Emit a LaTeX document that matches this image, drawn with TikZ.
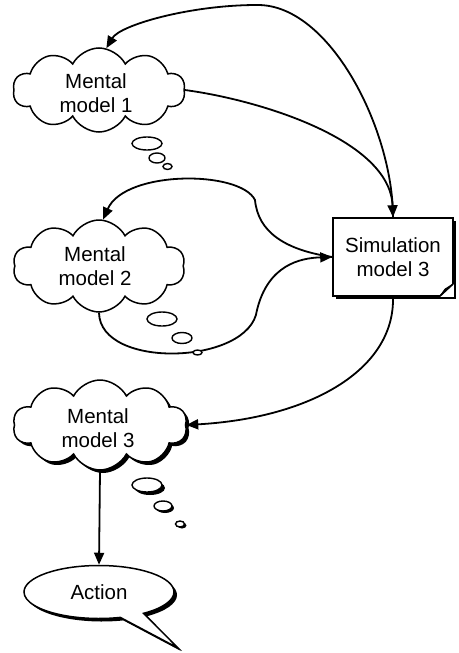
\documentclass[tikz,border=0pt]{standalone}
\usepackage{fontspec}
\newfontfamily\lab{Liberation Sans}
\usetikzlibrary{shapes.symbols,shapes.callouts,shadows,arrows.meta}
\begin{document}
\begin{tikzpicture}[x=1pt,y=-1pt,
  txt/.style={font=\lab\fontsize{20.5}{24}\selectfont, align=center, inner sep=0pt},
  cloudst/.style={cloud, cloud puffs=10, cloud puff arc=125, draw, line width=1.5pt, fill=white, inner sep=0pt, minimum width=172pt, minimum height=86pt},
  blk/.style={drop shadow={fill=black, opacity=1, shadow xshift=3pt, shadow yshift=-3pt}},
  conn/.style={line width=1.8pt, -{Triangle[length=12pt,width=10pt]}},
  bub/.style={draw, line width=1.4pt, fill=white},
  bubshadow/.style={fill=black}
]
\useasboundingbox (0,0) rectangle (458,653);

% clouds
\node[cloudst, minimum height=84pt] (m1) at (99,90) {};
\node[txt] (m1t) at (96,93) {Mental\\model 1};
\node[cloudst, minimum height=92pt] (m2) at (99,266) {};
\node[txt] (m2t) at (95,266) {Mental\\model 2};
\node[cloudst, minimum height=90pt, minimum width=174pt, blk] (m3) at (100,425) {};
\node[txt] (m3t) at (98,428) {Mental\\model 3};

% simulation box
\node[draw, line width=1.6pt, fill=white, minimum width=120pt, minimum height=78pt, blk, txt] (sim) at (393,257) {Simulation\\model 3};
\fill[white] (440,296.8) -- (453.8,296.8) -- (453.8,284) -- cycle;
\draw[line width=1.6pt] (440,296) -- (453,284);
\filldraw[line width=0.8pt] (440,296) -- (445,289) -- (453,284) -- cycle;

% action callout
\node[ellipse callout, draw, line width=1.5pt, fill=white, minimum width=150pt, minimum height=53pt,
      callout absolute pointer={(178,648)}, callout pointer arc=20, blk, txt] (act) at (99,592) {Action};

% connectors
\coordinate (topmid) at (257,5);
\coordinate (upmid) at (255,200);
\coordinate (lowmid) at (257,310);
\draw[conn] (sim.north) .. controls (393,130) and (330,4) .. (topmid) .. controls (190,5) and (120,25) .. (m1.80);
\draw[conn] (m1.east) .. controls (260,100) and (390,140) .. (sim.north);
\draw[conn] (sim.west) .. controls (285,250) and (258,232) .. (upmid) .. controls (240,170) and (125,170) .. (m2.85);
\draw[conn] (m2.south) .. controls (100,370) and (250,365) .. (lowmid) .. controls (268,265) and (300,258) .. (sim.west);
\draw[conn] (sim.south) .. controls (395,370) and (310,418) .. (m3.east);
\draw[conn] (m3.south) -- (act.north);

% thought bubbles
\path[bub] (147,143.5) ellipse [x radius=15, y radius=6.5];
\path[bub] (157,158) ellipse [x radius=8, y radius=5];
\path[bub] (167.5,166.5) ellipse [x radius=4.5, y radius=3];

\path[bub] (162,319) ellipse [x radius=15, y radius=7];
\path[bub] (182,338) ellipse [x radius=10, y radius=5.5];
\path[bub] (197.5,352.5) ellipse [x radius=4.5, y radius=2.5];

\fill[bubshadow] (150,488) ellipse [x radius=15, y radius=7];
\path[bub] (147,485) ellipse [x radius=15, y radius=7];
\fill[bubshadow] (165,508) ellipse [x radius=9, y radius=5];
\path[bub] (163,506) ellipse [x radius=9, y radius=5];
\fill[bubshadow] (182,525.5) ellipse [x radius=4.5, y radius=3];
\path[bub] (180,524) ellipse [x radius=4.5, y radius=3];
\end{tikzpicture}
\end{document}
